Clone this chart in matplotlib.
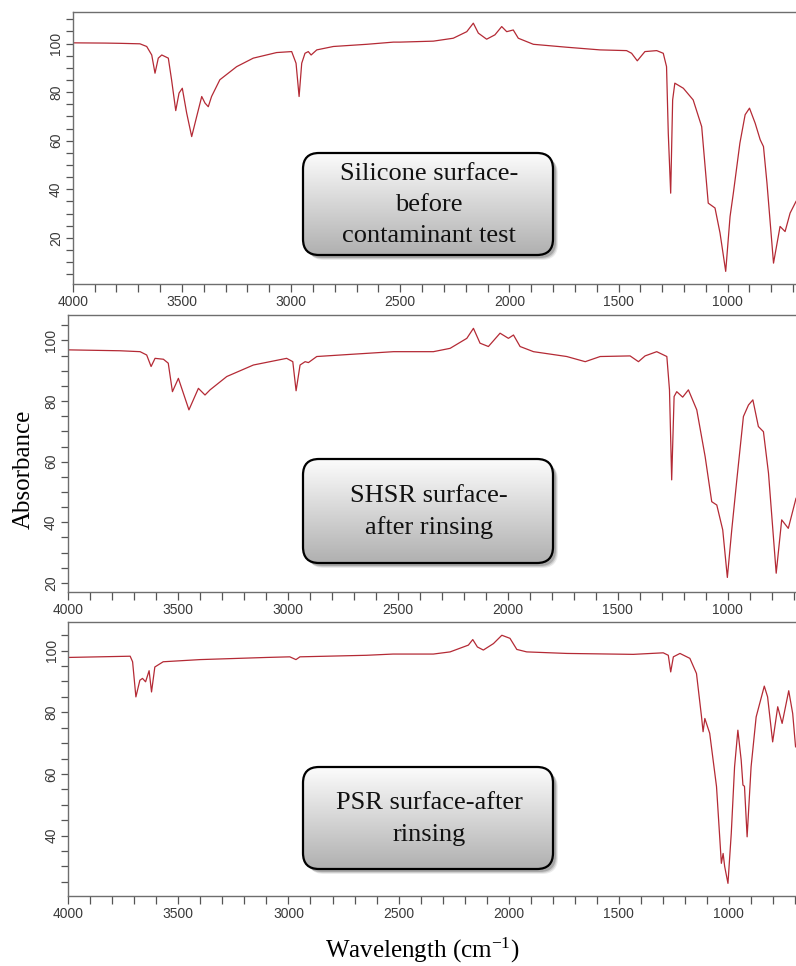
import numpy as np
import matplotlib
matplotlib.use("Agg")
import matplotlib.pyplot as plt
from matplotlib.patches import FancyBboxPatch
from matplotlib.colors import LinearSegmentedColormap
from matplotlib.ticker import MultipleLocator

# Silicone surface - before contaminant test
wn_silicone = [4000, 3850, 3783, 3692, 3661, 3638, 3623, 3608, 3592, 3562, 3547, 3528,
               3513, 3498, 3478, 3455, 3432, 3409, 3394, 3379, 3364, 3326, 3249, 3173,
               3066, 2997, 2977, 2963, 2951, 2936, 2921, 2908, 2882, 2806, 2653, 2531,
               2501, 2348, 2257, 2195, 2165, 2142, 2104, 2066, 2035, 2012, 1982, 1959,
               1890, 1738, 1585, 1463, 1440, 1414, 1379, 1325, 1295, 1280, 1272, 1261,
               1252, 1242, 1203, 1158, 1119, 1089, 1058, 1035, 1009, 989, 974, 944, 920,
               900, 874, 851, 836, 820, 790, 760, 737, 714, 687]
ab_silicone = [100.3, 100.2, 100.1, 99.9, 98.8, 95.3, 87.8, 94.0, 95.3, 94.0, 85.0, 72.4,
               79.6, 81.6, 71.4, 61.7, 70.0, 78.2, 75.5, 74.0, 78.2, 85.1, 90.5, 94.0,
               96.3, 96.7, 91.9, 78.2, 91.9, 96.0, 96.7, 95.3, 97.4, 98.8, 99.7, 100.6,
               100.6, 101.0, 102.2, 104.9, 108.4, 104.3, 101.8, 103.6, 107.0, 104.9, 105.6, 102.2,
               99.7, 98.5, 97.4, 97.1, 96.0, 92.9, 96.7, 97.1, 96.0, 90.5, 63.0, 38.4,
               76.8, 83.7, 81.6, 76.8, 65.8, 34.3, 32.3, 22.0, 6.2, 28.8, 38.4, 59.0, 70.7,
               73.4, 67.2, 60.4, 57.6, 42.6, 9.6, 24.7, 22.6, 30.2, 35.0]

# SHSR surface - after rinsing
wn_shsr = [4000, 3762, 3671, 3641, 3621, 3603, 3565, 3543, 3524, 3497, 3449, 3406, 3376,
           3353, 3277, 3156, 3005, 2977, 2962, 2944, 2921, 2906, 2868, 2717, 2519, 2490,
           2338, 2262, 2186, 2156, 2126, 2088, 2035, 1997, 1974, 1944, 1883, 1732, 1648,
           1580, 1444, 1406, 1376, 1323, 1277, 1265, 1255, 1244, 1232, 1205, 1179, 1141,
           1103, 1073, 1050, 1023, 1002, 982, 959, 929, 906, 886, 861, 838, 815, 780,
           755, 725, 690]
ab_shsr = [96.9, 96.6, 96.3, 95.2, 91.4, 94.1, 93.8, 92.5, 83.1, 87.5, 77.1, 84.2, 82.0,
           83.7, 88.1, 91.9, 94.1, 93.0, 83.4, 91.9, 93.0, 92.7, 94.7, 95.4, 96.3, 96.3,
           96.3, 97.4, 100.7, 104.0, 99.1, 98.0, 102.4, 100.7, 101.8, 98.0, 96.3, 94.7, 93.0,
           94.7, 94.9, 93.0, 94.9, 96.3, 94.7, 83.7, 54.0, 81.5, 83.1, 81.3, 83.7, 77.1,
           61.7, 46.8, 45.7, 37.5, 21.8, 37.5, 54.0, 74.9, 78.7, 80.4, 71.6, 69.9, 56.2, 23.2,
           40.8, 38.0, 47.9]

# PSR surface - after rinsing
wn_psr = [4000, 3719, 3708, 3693, 3675, 3663, 3649, 3633, 3622, 3607, 3569, 3402, 3099,
          2994, 2966, 2948, 2646, 2525, 2494, 2342, 2266, 2183, 2163, 2142, 2115, 2069,
          2031, 1994, 1963, 1918, 1736, 1434, 1298, 1275, 1264, 1252, 1222, 1177, 1147,
          1124, 1117, 1109, 1087, 1056, 1034, 1026, 1019, 1004, 989, 974, 959, 944, 936,
          929, 917, 899, 876, 839, 824, 801, 778, 758, 728, 710, 697]
ab_psr = [97.8, 98.2, 96.4, 85.0, 90.4, 91.0, 89.9, 93.5, 86.6, 94.7, 96.4, 97.1, 97.8,
          98.0, 97.1, 98.0, 98.5, 98.9, 98.9, 98.9, 99.6, 101.8, 103.6, 101.2, 100.2, 102.3,
          105.0, 104.0, 100.4, 99.6, 99.1, 98.8, 99.3, 98.5, 93.1, 98.0, 99.1, 97.5, 92.6,
          78.5, 73.7, 78.0, 73.2, 55.9, 31.0, 34.2, 30.0, 24.5, 40.7, 62.3, 74.2, 64.5, 56.4,
          56.0, 39.6, 62.3, 78.5, 88.5, 85.0, 70.4, 81.8, 76.4, 87.0, 79.6, 68.8]

labels = ["Silicone surface-\nbefore\ncontaminant test",
          "SHSR surface-\nafter rinsing",
          "PSR surface-after\nrinsing"]

plt.rcParams["mathtext.fontset"] = "custom"
plt.rcParams["mathtext.rm"] = "Liberation Serif"
plt.rcParams["mathtext.it"] = "Liberation Serif:italic"

W, H = 796, 966
fig = plt.figure(figsize=(W / 100, H / 100), dpi=100)


def px_axes(left, top, right, bottom):
    return fig.add_axes([left / W, 1 - bottom / H, (right - left) / W, (bottom - top) / H])


# (left, top, bottom) in pixels, x limits, y limits, label box (left, top, bottom)
panels = [
    (wn_silicone, ab_silicone, (72.7, 12, 284), (4000, 687), (1, 113), (303, 153, 255)),
    (wn_shsr, ab_shsr, (67.7, 315, 592), (4000, 690), (17, 108.4), (303, 459, 563)),
    (wn_psr, ab_psr, (68.3, 622, 896), (4000, 695), (20.4, 109.3), (303, 767, 869)),
]

grad_cmap = LinearSegmentedColormap.from_list("box", ["#fcfcfc", "#b0b0b0"])

for (wn, ab, (l, t, b), xl, yl, (bl, bt, bb)), text in zip(panels, labels):
    ax = px_axes(l, t, W, b)
    ax.plot(wn, ab, color="#b42a35", lw=0.9)
    ax.set_xlim(*xl)
    ax.set_ylim(*yl)
    ax.xaxis.set_major_locator(MultipleLocator(500))
    ax.xaxis.set_minor_locator(MultipleLocator(100))
    ax.yaxis.set_major_locator(MultipleLocator(20))
    ax.yaxis.set_minor_locator(MultipleLocator(5))
    ax.spines["right"].set_visible(False)
    for s in ["top", "left", "bottom"]:
        ax.spines[s].set_color("#6e6e6e")
        ax.spines[s].set_linewidth(1.0)
    ax.tick_params(axis="x", which="both", direction="out", length=6, width=0.9,
                   color="#555555", labelsize=10, labelcolor="#3a3a3a", pad=2)
    ax.tick_params(axis="y", which="both", direction="out", length=5, width=0.9,
                   color="#555555", labelsize=10, labelcolor="#3a3a3a", pad=2)
    for lab in ax.get_xticklabels():
        lab.set_family("Liberation Sans")
    for lab in ax.get_yticklabels():
        lab.set_family("Liberation Sans")
        lab.set_rotation(90)
        lab.set_va("center")

    # rounded gradient label box
    m = 10
    bw, bh = 250, bb - bt
    axb = px_axes(bl - m, bt - m, bl + bw + m, bb + m)
    axb.axis("off")
    for k, a in enumerate([0.08, 0.12, 0.18]):
        off = 5 - k
        sh = FancyBboxPatch((off, -off), bw, bh, boxstyle="round,pad=0,rounding_size=16",
                            fc="black", ec="none", alpha=a)
        axb.add_patch(sh)
    box = FancyBboxPatch((0, 0), bw, bh, boxstyle="round,pad=0,rounding_size=16",
                         fc="none", ec="black", lw=1.6, zorder=3)
    im = axb.imshow(np.linspace(0, 1, 200).reshape(-1, 1), cmap=grad_cmap, origin="upper",
                    extent=(0, bw, 0, bh), aspect="auto", zorder=2)
    axb.add_patch(box)
    im.set_clip_path(box)
    axb.set_xlim(-m, bw + m)
    axb.set_ylim(-m, bh + m)
    axb.text(bw / 2 + 1, bh / 2 - 1, text, ha="center", va="center", fontsize=19,
             family="Liberation Serif", linespacing=1.55, color="#111111", zorder=4)

fig.text(24 / W, 1 - 469 / H, "Absorbance", rotation=90, ha="center", va="center",
         fontsize=18, family="Liberation Serif")
fig.text(422 / W, 1 - 950 / H, "Wavelength (cm$^{-1}$)", ha="center", va="center",
         fontsize=18, family="Liberation Serif")

fig.savefig("out.png", dpi=100)
